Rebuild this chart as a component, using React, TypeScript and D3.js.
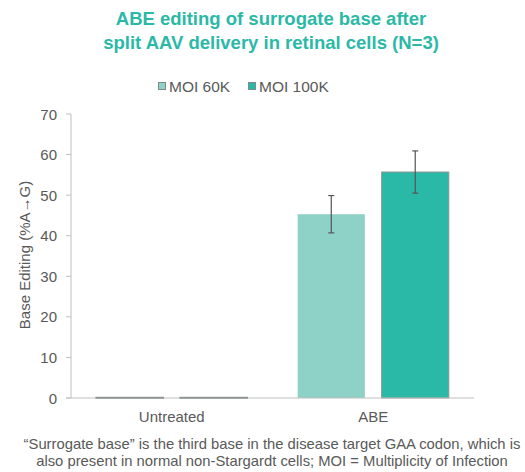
import React from "react";
import * as d3 from "d3";

const categories = ["Untreated", "ABE"];
const seriesNames = ["MOI 60K", "MOI 100K"];
const moi60 = [0.1, 45.3];
const moi100 = [0.1, 55.7];
const err60 = [0, 4.6];
const err100 = [0, 5.2];
const yTicks = [0, 10, 20, 30, 40, 50, 60, 70];
const colors = ["#8DD1C7", "#2BB9A7"];

const W = 525, H = 472;
const M = { left: 71, right: 474, top: 114, bottom: 398 };

export default function App() {
  const x = d3.scaleBand<string>().domain(categories).range([M.left, M.right]).paddingInner(0).paddingOuter(0);
  const xs = d3.scaleBand<string>().domain(seriesNames).range([0, x.bandwidth()]).paddingInner(0.2).paddingOuter(0.3);
  const y = d3.scaleLinear().domain([0, 70]).range([M.bottom, M.top]);
  const series = [moi60, moi100];
  const errs = [err60, err100];
  const font = "Liberation Sans, Arial, sans-serif";
  return (
    <svg width={W} height={H} style={{ position: "absolute", left: 0, top: 0, background: "#fff" }} fontFamily={font}>
      <text x={271} y={25} textAnchor="middle" fontSize={18.5} fontWeight="bold" fill="#2BB9A7">ABE editing of surrogate base after</text>
      <text x={271} y={48.5} textAnchor="middle" fontSize={18.5} fontWeight="bold" fill="#2BB9A7">split AAV delivery in retinal cells (N=3)</text>
      {seriesNames.map((s, i) => {
        const lx = [158, 248][i];
        return (
          <g key={s}>
            <rect x={lx + 0.5} y={82.5} width={7} height={7} fill={colors[i]} stroke="#7f8a89" strokeWidth={1} />
            <text x={lx + 11} y={91.5} fontSize={15.5} fill="#595959">{s}</text>
          </g>
        );
      })}
      {yTicks.map((t) => (
        <g key={t}>
          <line x1={66} x2={M.left} y1={y(t)} y2={y(t)} stroke="#bfbfbf" />
          <text x={57} y={y(t) + 5.5} textAnchor="end" fontSize={15} fill="#595959">{t}</text>
        </g>
      ))}
      <line x1={M.left} x2={M.left} y1={M.top} y2={M.bottom} stroke="#bfbfbf" />
      {categories.map((c, ci) =>
        seriesNames.map((s, si) => {
          const v = series[si][ci];
          const bx = (x(c) as number) + (xs(s) as number);
          const bw = xs.bandwidth();
          const by = y(v);
          const e = errs[si][ci];
          const cx = bx + bw / 2;
          return (
            <g key={c + s}>
              <rect x={bx} y={by} width={bw} height={y(0) - by} fill={colors[si]}
                stroke={ci === 0 ? "#5f6b6a" : si === 1 ? "#8a9594" : "none"} strokeWidth={ci === 0 ? 1.5 : 1} />
              {e > 0 && (
                <g stroke="#555" strokeWidth={1.2}>
                  <line x1={cx} x2={cx} y1={y(v + e)} y2={y(v - e)} />
                  <line x1={cx - 3} x2={cx + 3} y1={y(v + e)} y2={y(v + e)} />
                  <line x1={cx - 3} x2={cx + 3} y1={y(v - e)} y2={y(v - e)} />
                </g>
              )}
            </g>
          );
        })
      )}
      <line x1={66} x2={M.right} y1={M.bottom} y2={M.bottom} stroke="#bfbfbf" />
      {categories.map((c) => (
        <text key={c} x={(x(c) as number) + x.bandwidth() / 2} y={421.5} textAnchor="middle" fontSize={15} fill="#595959">{c}</text>
      ))}
      <text transform={`translate(30,255) rotate(-90)`} textAnchor="middle" fontSize={15} fill="#595959">Base Editing (%A→G)</text>
      <text x={272} y={449} textAnchor="middle" fontSize={14.8} fill="#595959">“Surrogate base” is the third base in the disease target GAA codon, which is</text>
      <text x={272} y={466} textAnchor="middle" fontSize={14.8} fill="#595959">also present in normal non-Stargardt cells; MOI = Multiplicity of Infection</text>
    </svg>
  );
}
